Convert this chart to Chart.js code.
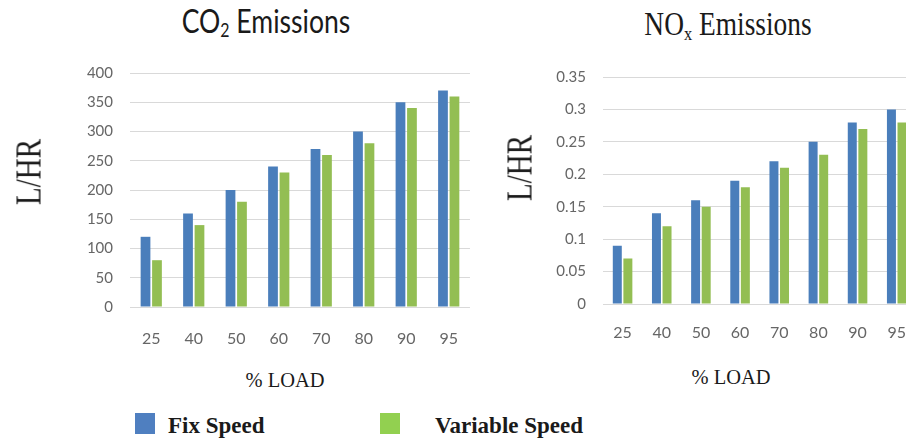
<!DOCTYPE html>
<html>
<head>
<meta charset="utf-8">
<script src="https://cdn.jsdelivr.net/npm/chart.js@4.4.0/dist/chart.umd.min.js"></script>
<style>
  body { margin: 0; width: 906px; height: 440px; overflow: hidden; background: #fff; position: relative; }
  canvas { position: absolute; }
  .lbl { position: absolute; white-space: nowrap; color: #1a1a1a; line-height: 1; }
  .serif { font-family: "Liberation Serif", "DejaVu Serif", serif; }
  .sans { font-family: Lato, "Liberation Sans", sans-serif; }
  sub { font-size: 60%; vertical-align: -0.25em; }
  .swatch { position: absolute; width: 20px; height: 21px; }
</style>
</head>
<body>
<canvas id="co2Chart" width="442" height="305" style="left:30px; top:47px;"></canvas>
<canvas id="noxChart" width="414" height="298" style="left:503px; top:51px;"></canvas>

<div class="lbl sans" style="left:266px; top:22px; font-size:32px; transform:translate(-50%,-50%) scaleX(0.83);">CO<sub>2</sub> Emissions</div>
<div class="lbl serif" style="left:728px; top:26px; font-size:33px; transform:translate(-50%,-50%) scaleX(0.83);">NO<sub>x</sub> Emissions</div>

<div class="lbl serif" style="left:29px; top:172px; font-size:35px; transform:translate(-50%,-50%) rotate(-90deg) scaleX(0.83);">L/HR</div>
<div class="lbl serif" style="left:520px; top:168px; font-size:35px; transform:translate(-50%,-50%) rotate(-90deg) scaleX(0.83);">L/HR</div>

<div class="lbl serif" style="left:285px; top:380px; font-size:22px; transform:translate(-50%,-50%) scaleX(0.93);">% LOAD</div>
<div class="lbl serif" style="left:731px; top:377px; font-size:22px; transform:translate(-50%,-50%) scaleX(0.93);">% LOAD</div>

<div class="swatch" style="left:135px; top:413px; background:#4f7fc0;"></div>
<div class="lbl serif" style="left:168px; top:414px; font-size:23px; font-weight:bold;">Fix Speed</div>
<div class="swatch" style="left:380px; top:413px; background:#92d050;"></div>
<div class="lbl serif" style="left:435px; top:414px; font-size:23px; font-weight:bold;">Variable Speed</div>

<script>
// % load categories shared by both charts
const loads = ['25', '40', '50', '60', '70', '80', '90', '95'];

// CO2 emissions (L/HR)
const co2Fix = [120, 160, 200, 240, 270, 300, 350, 370];
const co2Var = [80, 140, 180, 230, 260, 280, 340, 360];
const co2Ticks = ['0', '50', '100', '150', '200', '250', '300', '350', '400'];

// NOx emissions (L/HR)
const noxFix = [0.09, 0.14, 0.16, 0.19, 0.22, 0.25, 0.28, 0.30];
const noxVar = [0.07, 0.12, 0.15, 0.18, 0.21, 0.23, 0.27, 0.28];
const noxTicks = ['0', '0.05', '0.1', '0.15', '0.2', '0.25', '0.3', '0.35'];

const fixColor = '#4a7ebb';
const varColor = '#93be53';

function createEmissionChart(id, fix, vari, max, step, tickLabels, labelPad) {
    return new Chart(document.getElementById(id), {
        type: 'bar',
        data: {
            labels: loads,
            datasets: [
                { label: 'Fix Speed', data: fix, backgroundColor: fixColor },
                { label: 'Variable Speed', data: vari, backgroundColor: varColor }
            ]
        },
        options: {
            responsive: false,
            animation: false,
            layout: { padding: 0 },
            datasets: {
                bar: { categoryPercentage: 0.54, barPercentage: 0.85 }
            },
            plugins: {
                legend: { display: false },
                title: { display: false },
                tooltip: { enabled: false }
            },
            scales: {
                x: {
                    grid: { display: false },
                    border: { display: false },
                    ticks: {
                        color: '#666',
                        padding: labelPad,
                        maxRotation: 0,
                        font: { family: 'Lato', size: 16 }
                    },
                    afterFit: function(scale) { scale.height = 45; }
                },
                y: {
                    min: 0,
                    max: max,
                    grid: { color: '#d9d9d9', drawTicks: false },
                    border: { display: false },
                    ticks: {
                        stepSize: step,
                        color: '#666',
                        padding: 17,
                        font: { family: 'Lato', size: 15 },
                        callback: function(value, index) {
                            return tickLabels[index];
                        }
                    },
                    afterFit: function(scale) { scale.width = 100; }
                }
            }
        }
    });
}

createEmissionChart('co2Chart', co2Fix, co2Var, 400, 50, co2Ticks, 14);
createEmissionChart('noxChart', noxFix, noxVar, 0.35, 0.05, noxTicks, 11);
</script>
</body>
</html>
